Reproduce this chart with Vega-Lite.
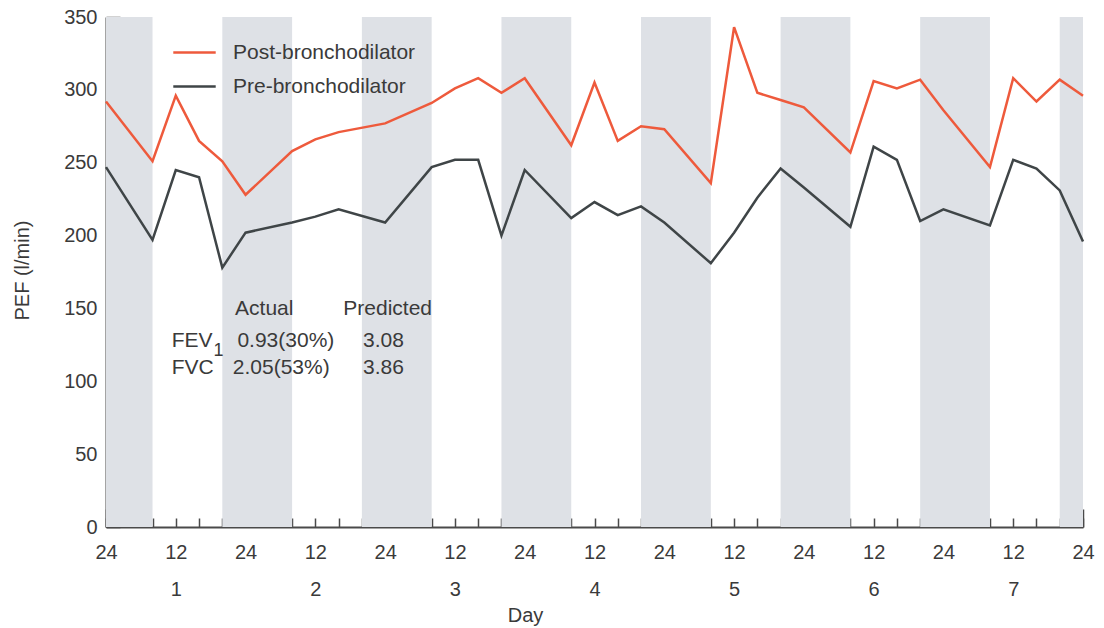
{
  "$schema": "https://vega.github.io/schema/vega-lite/v6.json",
  "width": 977,
  "height": 510,
  "autosize": {"type": "none"},
  "padding": {"left": 106, "top": 17, "right": 21, "bottom": 101},
  "background": "white",
  "config": {
    "view": {"stroke": null},
    "font": "Liberation Sans",
    "axis": {
      "domainColor": "#4a4a4a",
      "domainWidth": 2,
      "tickColor": "#4a4a4a",
      "tickWidth": 1.5,
      "labelColor": "#3a3a3a",
      "titleColor": "#3a3a3a",
      "labelFontSize": 20,
      "titleFontSize": 20,
      "titleFontWeight": "normal",
      "grid": false
    }
  },
  "resolve": {"axis": {"x": "independent"}},
  "datasets": {
    "nights": [
      {"start": 0, "end": 8},
      {"start": 20, "end": 32},
      {"start": 44, "end": 56},
      {"start": 68, "end": 80},
      {"start": 92, "end": 104},
      {"start": 116, "end": 128},
      {"start": 140, "end": 152},
      {"start": 164, "end": 168}
    ],
    "pef": [
      {"hour": 0, "series": "Post-bronchodilator", "pef": 292},
      {"hour": 8, "series": "Post-bronchodilator", "pef": 251},
      {"hour": 12, "series": "Post-bronchodilator", "pef": 296},
      {"hour": 16, "series": "Post-bronchodilator", "pef": 265},
      {"hour": 20, "series": "Post-bronchodilator", "pef": 251},
      {"hour": 24, "series": "Post-bronchodilator", "pef": 228},
      {"hour": 32, "series": "Post-bronchodilator", "pef": 258},
      {"hour": 36, "series": "Post-bronchodilator", "pef": 266},
      {"hour": 40, "series": "Post-bronchodilator", "pef": 271},
      {"hour": 48, "series": "Post-bronchodilator", "pef": 277},
      {"hour": 56, "series": "Post-bronchodilator", "pef": 291},
      {"hour": 60, "series": "Post-bronchodilator", "pef": 301},
      {"hour": 64, "series": "Post-bronchodilator", "pef": 308},
      {"hour": 68, "series": "Post-bronchodilator", "pef": 298},
      {"hour": 72, "series": "Post-bronchodilator", "pef": 308},
      {"hour": 80, "series": "Post-bronchodilator", "pef": 262},
      {"hour": 84, "series": "Post-bronchodilator", "pef": 305},
      {"hour": 88, "series": "Post-bronchodilator", "pef": 265},
      {"hour": 92, "series": "Post-bronchodilator", "pef": 275},
      {"hour": 96, "series": "Post-bronchodilator", "pef": 273},
      {"hour": 104, "series": "Post-bronchodilator", "pef": 236},
      {"hour": 108, "series": "Post-bronchodilator", "pef": 343},
      {"hour": 112, "series": "Post-bronchodilator", "pef": 298},
      {"hour": 116, "series": "Post-bronchodilator", "pef": 293},
      {"hour": 120, "series": "Post-bronchodilator", "pef": 288},
      {"hour": 128, "series": "Post-bronchodilator", "pef": 257},
      {"hour": 132, "series": "Post-bronchodilator", "pef": 306},
      {"hour": 136, "series": "Post-bronchodilator", "pef": 301},
      {"hour": 140, "series": "Post-bronchodilator", "pef": 307},
      {"hour": 144, "series": "Post-bronchodilator", "pef": 286},
      {"hour": 152, "series": "Post-bronchodilator", "pef": 247},
      {"hour": 156, "series": "Post-bronchodilator", "pef": 308},
      {"hour": 160, "series": "Post-bronchodilator", "pef": 292},
      {"hour": 164, "series": "Post-bronchodilator", "pef": 307},
      {"hour": 168, "series": "Post-bronchodilator", "pef": 296},
      {"hour": 0, "series": "Pre-bronchodilator", "pef": 247},
      {"hour": 8, "series": "Pre-bronchodilator", "pef": 197},
      {"hour": 12, "series": "Pre-bronchodilator", "pef": 245},
      {"hour": 16, "series": "Pre-bronchodilator", "pef": 240},
      {"hour": 20, "series": "Pre-bronchodilator", "pef": 178},
      {"hour": 24, "series": "Pre-bronchodilator", "pef": 202},
      {"hour": 32, "series": "Pre-bronchodilator", "pef": 209},
      {"hour": 36, "series": "Pre-bronchodilator", "pef": 213},
      {"hour": 40, "series": "Pre-bronchodilator", "pef": 218},
      {"hour": 48, "series": "Pre-bronchodilator", "pef": 209},
      {"hour": 56, "series": "Pre-bronchodilator", "pef": 247},
      {"hour": 60, "series": "Pre-bronchodilator", "pef": 252},
      {"hour": 64, "series": "Pre-bronchodilator", "pef": 252},
      {"hour": 68, "series": "Pre-bronchodilator", "pef": 200},
      {"hour": 72, "series": "Pre-bronchodilator", "pef": 245},
      {"hour": 80, "series": "Pre-bronchodilator", "pef": 212},
      {"hour": 84, "series": "Pre-bronchodilator", "pef": 223},
      {"hour": 88, "series": "Pre-bronchodilator", "pef": 214},
      {"hour": 92, "series": "Pre-bronchodilator", "pef": 220},
      {"hour": 96, "series": "Pre-bronchodilator", "pef": 209},
      {"hour": 104, "series": "Pre-bronchodilator", "pef": 181},
      {"hour": 108, "series": "Pre-bronchodilator", "pef": 202},
      {"hour": 112, "series": "Pre-bronchodilator", "pef": 226},
      {"hour": 116, "series": "Pre-bronchodilator", "pef": 246},
      {"hour": 120, "series": "Pre-bronchodilator", "pef": 233},
      {"hour": 128, "series": "Pre-bronchodilator", "pef": 206},
      {"hour": 132, "series": "Pre-bronchodilator", "pef": 261},
      {"hour": 136, "series": "Pre-bronchodilator", "pef": 252},
      {"hour": 140, "series": "Pre-bronchodilator", "pef": 210},
      {"hour": 144, "series": "Pre-bronchodilator", "pef": 218},
      {"hour": 152, "series": "Pre-bronchodilator", "pef": 207},
      {"hour": 156, "series": "Pre-bronchodilator", "pef": 252},
      {"hour": 160, "series": "Pre-bronchodilator", "pef": 246},
      {"hour": 164, "series": "Pre-bronchodilator", "pef": 231},
      {"hour": 168, "series": "Pre-bronchodilator", "pef": 196}
    ],
    "spirometry": [
      {"hour": 22.2, "pef": 149.5, "text": "Actual"},
      {"hour": 40.8, "pef": 149.5, "text": "Predicted"},
      {"hour": 11.3, "pef": 127.7, "text": "FEV"},
      {"hour": 22.6, "pef": 127.7, "text": "0.93(30%)"},
      {"hour": 44.2, "pef": 127.7, "text": "3.08"},
      {"hour": 11.3, "pef": 109.1, "text": "FVC"},
      {"hour": 21.8, "pef": 109.1, "text": "2.05(53%)"},
      {"hour": 44.2, "pef": 109.1, "text": "3.86"}
    ],
    "subscript": [
      {"hour": 18.5, "pef": 121.0, "text": "1"}
    ]
  },
  "layer": [
    {
      "data": {"name": "nights"},
      "mark": {"type": "rect", "color": "#dee1e6"},
      "encoding": {
        "x": {
          "field": "start",
          "type": "quantitative",
          "scale": {"domain": [0, 168], "nice": false, "zero": false},
          "axis": {
            "values": [0, 4, 8, 12, 16, 20, 24, 28, 32, 36, 40, 44, 48, 52, 56, 60, 64, 68, 72, 76, 80, 84, 88, 92, 96, 100, 104, 108, 112, 116, 120, 124, 128, 132, 136, 140, 144, 148, 152, 156, 160, 164, 168],
            "labelExpr": "datum.value % 24 == 0 ? '24' : (datum.value % 24 == 12 ? '12' : '')",
            "labelBaseline": "top",
            "tickSize": -9,
            "labelPadding": 24,
            "labelOverlap": false,
            "labelFlush": false,
            "labelBound": false,
            "title": null
          }
        },
        "x2": {"field": "end"},
        "y": {
          "datum": 0,
          "type": "quantitative",
          "scale": {"domain": [0, 350], "nice": false},
          "axis": {
            "values": [0, 50, 100, 150, 200, 250, 300, 350],
            "tickSize": -14,
            "labelPadding": 23,
            "title": "PEF (l/min)",
            "titleX": -84,
            "titleY": 253,
            "titleAngle": -90,
            "titleAlign": "center",
            "titleBaseline": "middle"
          }
        },
        "y2": {"datum": 350}
      }
    },
    {
      "data": {"name": "pef"},
      "mark": {"type": "line", "strokeWidth": 2.5},
      "encoding": {
        "x": {
          "field": "hour",
          "type": "quantitative",
          "axis": {
            "orient": "bottom",
            "domain": false,
            "values": [0, 12, 24, 36, 48, 60, 72, 84, 96, 108, 120, 132, 144, 156, 168],
            "tickSize": -18,
            "tickOpacity": {"condition": {"test": "datum.value % 24 == 0", "value": 1}, "value": 0},
            "labelExpr": "datum.value % 24 == 12 ? '' + ((datum.value + 12) / 24) : ''",
            "labelBaseline": "top",
            "labelPadding": 70,
            "labelOverlap": false,
            "labelFlush": false,
            "labelBound": false,
            "title": "Day",
            "titleX": 419,
            "titleY": 88,
            "titleBaseline": "middle",
            "titleAlign": "center"
          }
        },
        "y": {"field": "pef", "type": "quantitative"},
        "color": {
          "field": "series",
          "type": "nominal",
          "scale": {"domain": ["Post-bronchodilator", "Pre-bronchodilator"], "range": ["#ee5a3c", "#3f4547"]},
          "legend": {
            "orient": "none",
            "legendX": 66,
            "legendY": 13,
            "title": null,
            "symbolType": "stroke",
            "symbolSize": 1800,
            "symbolStrokeWidth": 2.5,
            "labelFontSize": 21,
            "labelLimit": 400,
            "labelColor": "#3a3a3a",
            "labelOffset": 16,
            "rowPadding": 1
          }
        }
      }
    },
    {
      "data": {"name": "spirometry"},
      "mark": {"type": "text", "align": "left", "baseline": "middle", "fontSize": 21, "color": "#3a3a3a"},
      "encoding": {
        "x": {"field": "hour", "type": "quantitative", "axis": null},
        "y": {"field": "pef", "type": "quantitative"},
        "text": {"field": "text"}
      }
    },
    {
      "data": {"name": "subscript"},
      "mark": {"type": "text", "align": "left", "baseline": "middle", "fontSize": 18, "color": "#3a3a3a"},
      "encoding": {
        "x": {"field": "hour", "type": "quantitative", "axis": null},
        "y": {"field": "pef", "type": "quantitative"},
        "text": {"field": "text"}
      }
    }
  ]
}
